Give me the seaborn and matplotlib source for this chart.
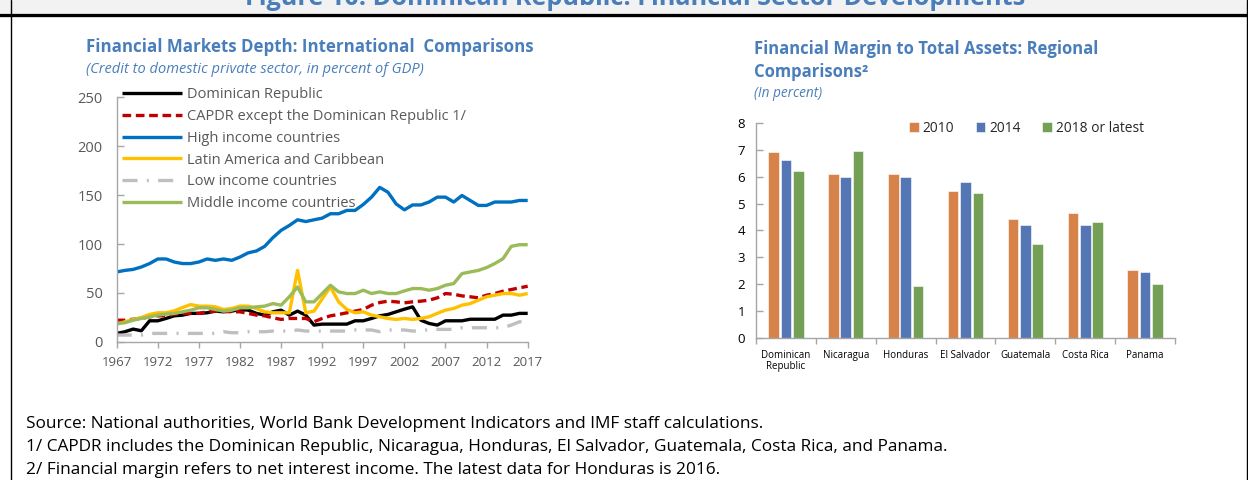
import numpy as np
import pandas as pd
import matplotlib
matplotlib.use("Agg")
import matplotlib.pyplot as plt
from matplotlib.patches import Rectangle
from matplotlib.lines import Line2D
from matplotlib.ticker import MultipleLocator, FixedLocator
import seaborn as sns

sns.set_theme(style="white")
plt.rcParams['font.family'] = ['Open Sans', 'DejaVu Sans']

# ---------------- data: left chart ----------------
years = list(range(1967, 2018))
dominican = [8.5, 10.2, 12.9, 11.2, 21.4, 21.4, 23.8, 26.5, 27.2, 29.0,
             29.0, 29.6, 31.3, 30.6, 31.3, 33.0, 32.3, 29.0, 27.2, 30.6,
             32.3, 27.2, 31.3, 27.2, 17.0, 18.0, 18.0, 18.0, 18.0, 21.4,
             21.4, 23.8, 26.5, 27.9, 30.6, 33.3, 35.7, 22.0, 18.7, 17.0,
             21.4, 21.4, 21.4, 23.0, 23.0, 23.0, 23.0, 27.2, 27.2, 29.0, 29.0]
capdr = [22.0, 22.0, 23.0, 23.8, 25.5, 26.5, 26.5, 28.2, 29.0, 29.0,
         29.0, 30.6, 31.3, 31.3, 30.6, 30.6, 29.0, 27.2, 26.5, 24.5,
         22.8, 23.8, 23.8, 23.8, 20.4, 23.8, 26.5, 27.9, 29.6, 31.3,
         33.0, 37.4, 40.1, 41.5, 40.8, 39.8, 40.8, 41.5, 42.5, 44.9,
         49.3, 48.6, 46.9, 46.0, 44.9, 47.6, 49.3, 51.7, 53.4, 55.1, 56.8]
high_income = [71.4, 73.0, 74.0, 76.5, 80.0, 84.7, 84.7, 81.6, 80.0, 80.0,
               81.6, 84.7, 83.3, 84.7, 83.3, 86.7, 91.0, 92.9, 97.6, 106.5,
               114.0, 119.0, 124.8, 123.0, 124.8, 126.5, 131.0, 131.0, 134.4, 134.4,
               140.5, 148.0, 158.0, 153.0, 141.0, 135.0, 140.0, 140.0, 143.0, 148.0,
               148.0, 143.0, 149.7, 144.6, 139.5, 139.5, 143.0, 143.0, 143.0, 144.6, 144.6]
latam = [18.0, 20.4, 22.8, 24.8, 27.9, 29.6, 29.6, 31.6, 35.0, 38.0,
         36.4, 36.4, 35.7, 33.0, 34.0, 36.4, 36.4, 34.0, 30.6, 29.6,
         29.6, 29.6, 73.0, 29.6, 31.3, 44.0, 56.0, 40.8, 33.0, 29.6,
         30.6, 27.2, 25.5, 23.8, 22.8, 23.8, 22.8, 23.8, 25.5, 29.0,
         32.3, 34.0, 37.4, 39.0, 42.5, 46.0, 47.6, 49.3, 49.3, 47.6, 49.3]
low_income = [6.8, 6.8, 6.8, 6.8, 8.5, 8.5, 8.5, 8.5, 8.5, 8.5,
              8.5, 8.5, 8.5, 10.2, 9.2, 9.2, 10.2, 10.2, 10.2, 10.9,
              10.9, 10.9, 12.0, 10.9, 10.9, 10.9, 10.9, 10.9, 10.9, 12.0,
              12.0, 12.0, 10.2, 12.0, 12.0, 12.0, 10.9, 10.9, 12.6, 12.6,
              12.6, 12.6, 14.3, 14.3, 14.3, 14.3, 14.3, 14.3, 17.0, 20.4, 20.4]
middle_income = [18.7, 19.4, 22.0, 23.8, 25.5, 27.2, 28.2, 29.0, 30.6, 32.3,
                 34.7, 34.7, 33.0, 31.3, 32.3, 34.7, 34.7, 35.7, 36.4, 39.0,
                 37.4, 46.0, 56.0, 40.8, 40.8, 49.3, 57.8, 51.0, 49.3, 49.3,
                 52.7, 49.3, 51.0, 49.3, 49.3, 52.0, 54.4, 54.4, 52.7, 54.4,
                 57.8, 59.5, 69.7, 71.4, 73.0, 75.9, 80.0, 85.0, 97.6, 99.3, 99.3]
series_names = ["Dominican Republic",
                "CAPDR except the Dominican Republic 1/",
                "High income countries",
                "Latin America and Caribbean",
                "Low income countries",
                "Middle income countries"]
series_values = [dominican, capdr, high_income, latam, low_income, middle_income]
x_tick_years = list(range(1967, 2018, 5))

# ---------------- data: right chart ----------------
countries = ["Dominican\nRepublic", "Nicaragua", "Honduras", "El Salvador",
             "Guatemala", "Costa Rica", "Panama"]
periods = ["2010", "2014", "2018 or latest"]
margin_2010 = [6.92, 6.10, 6.10, 5.47, 4.43, 4.64, 2.51]
margin_2014 = [6.63, 6.00, 6.00, 5.82, 4.19, 4.19, 2.44]
margin_2018 = [6.22, 6.98, 1.93, 5.41, 3.50, 4.30, 1.99]

# ---------------- styles ----------------
line_colors = ["#000000", "#C00000", "#0070C0", "#FFC000", "#BFBFBF", "#9BBB59"]
line_styles = ["-", (0, (2.6, 1.4)), "-", "-", (0, (4.5, 2.8, 0.6, 2.8)), "-"]
bar_colors = ["#ED7D31", "#4472C4", "#70AD47"]
title_blue = "#4A7EBB"
axis_gray = "#A6A6A6"
text_gray = "#595959"

W, H = 1248, 480
fig = plt.figure(figsize=(W / 100, H / 100), dpi=100)
fig.patch.set_facecolor("white")

def fx(px):
    return px / W

def fy(py):
    return 1 - py / H

# header band and frame
fig.patches.append(Rectangle((0, fy(13)), 1, 13 / H, transform=fig.transFigure,
                             facecolor="#F2F2F2", edgecolor="none", zorder=0))
fig.lines.append(Line2D([0, 1], [fy(14.5), fy(14.5)], transform=fig.transFigure,
                        color="black", lw=2.4))
fig.lines.append(Line2D([fx(10.5), fx(10.5)], [0, 1], transform=fig.transFigure,
                        color="black", lw=1.0))
fig.lines.append(Line2D([fx(1246.5), fx(1246.5)], [0, 1], transform=fig.transFigure,
                        color="black", lw=1.0))
fig.text(fx(635), fy(5), "Figure 10. Dominican Republic: Financial Sector Developments",
         ha="center", va="baseline", fontsize=18.2, fontweight="bold", color=title_blue)

# ---------------- left chart ----------------
ax1 = fig.add_axes([fx(116.7), fy(341.7), fx(527.7 - 116.7), (341.7 - 97.5) / H])
for name, vals, col, ls in zip(series_names, series_values, line_colors, line_styles):
    df = pd.DataFrame({"year": years, "value": vals})
    sns.lineplot(data=df, x="year", y="value", ax=ax1, color=col, linestyle=ls,
                 lw=2.4, label=name, solid_capstyle="butt", dash_capstyle="butt")
ax1.set_xlim(1967, 2017)
ax1.set_ylim(0, 250)
ax1.set_xlabel("")
ax1.set_ylabel("")
ax1.xaxis.set_major_locator(FixedLocator(x_tick_years))
ax1.yaxis.set_major_locator(MultipleLocator(50))
for s in ["top", "right"]:
    ax1.spines[s].set_visible(False)
for s in ["left", "bottom"]:
    ax1.spines[s].set_color(axis_gray)
    ax1.spines[s].set_linewidth(1.0)
ax1.tick_params(axis="x", direction="out", length=4, width=1, color=axis_gray,
                labelsize=9.5, labelcolor=text_gray, pad=6, bottom=True)
ax1.tick_params(axis="y", direction="in", length=5, width=1, color=axis_gray,
                labelsize=10.5, labelcolor=text_gray, pad=10, left=True)
ax1.set_facecolor("white")
leg = ax1.legend(loc="upper left", bbox_to_anchor=(fx(122), fy(87)),
                 bbox_transform=fig.transFigure, frameon=False, fontsize=10.5,
                 handlelength=4.1, handletextpad=0.35, labelspacing=0.47,
                 borderaxespad=0, borderpad=0)
for t in leg.get_texts():
    t.set_color(text_gray)

fig.text(fx(86), fy(52), "Financial Markets Depth: International  Comparisons",
         fontsize=12.2, fontweight="bold", color=title_blue, va="baseline")
fig.text(fx(86), fy(73), "(Credit to domestic private sector, in percent of GDP)",
         fontsize=10.5, fontstyle="italic", color=title_blue, va="baseline")

# ---------------- right chart ----------------
ax2 = fig.add_axes([fx(756), fy(337.7), fx(1175 - 756), (337.7 - 123.3) / H])
bar_df = pd.DataFrame({
    "country": countries * 3,
    "period": [periods[0]] * 7 + [periods[1]] * 7 + [periods[2]] * 7,
    "value": margin_2010 + margin_2014 + margin_2018,
})
sns.barplot(data=bar_df, x="country", y="value", hue="period", ax=ax2,
            palette=bar_colors, width=0.62, gap=0.14, edgecolor="white",
            linewidth=0.4)
ax2.set_xlim(-0.5, len(countries) - 0.5)
ax2.set_ylim(0, 8)
ax2.set_xlabel("")
ax2.set_ylabel("")
ax2.yaxis.set_major_locator(MultipleLocator(1))
for s in ["top", "right"]:
    ax2.spines[s].set_visible(False)
for s in ["left", "bottom"]:
    ax2.spines[s].set_color(axis_gray)
    ax2.spines[s].set_linewidth(1.0)
ax2.xaxis.set_minor_locator(FixedLocator(np.arange(-0.5, len(countries), 1.0)))
ax2.tick_params(axis="x", which="major", length=0, labelsize=7, labelcolor="#000000", pad=9)
ax2.tick_params(axis="x", which="minor", direction="out", length=4, width=1,
                color=axis_gray, bottom=True)
ax2.tick_params(axis="y", direction="in", length=5, width=1, color=axis_gray,
                labelsize=9.5, labelcolor="#000000", pad=8, left=True)
for lbl in ax2.get_xticklabels():
    lbl.set_linespacing(1.0)
leg2 = ax2.legend(loc="upper left", bbox_to_anchor=(fx(909), fy(121)),
                  bbox_transform=fig.transFigure, frameon=False, ncol=3,
                  fontsize=9.9, handlelength=0.7, handleheight=0.7,
                  handletextpad=0.3, columnspacing=1.55, borderaxespad=0, borderpad=0)

fig.text(fx(754), fy(54), "Financial Margin to Total Assets: Regional",
         fontsize=12.0, fontweight="bold", color=title_blue, va="baseline")
fig.text(fx(754), fy(77), "Comparisons\u00b2",
         fontsize=12.0, fontweight="bold", color=title_blue, va="baseline")
fig.text(fx(754), fy(97), "(In percent)",
         fontsize=9.8, fontstyle="italic", color=title_blue, va="baseline")

# ---------------- footnotes ----------------
notes = ["Source: National authorities, World Bank Development Indicators and IMF staff calculations.",
         "1/ CAPDR includes the Dominican Republic, Nicaragua, Honduras, El Salvador, Guatemala, Costa Rica, and Panama.",
         "2/ Financial margin refers to net interest income. The latest data for Honduras is 2016."]
for i, n in enumerate(notes):
    fig.text(fx(26), fy(428 + 23 * i), n, fontsize=12.4, color="#000000", va="baseline")

fig.savefig("out.png", dpi=100)
